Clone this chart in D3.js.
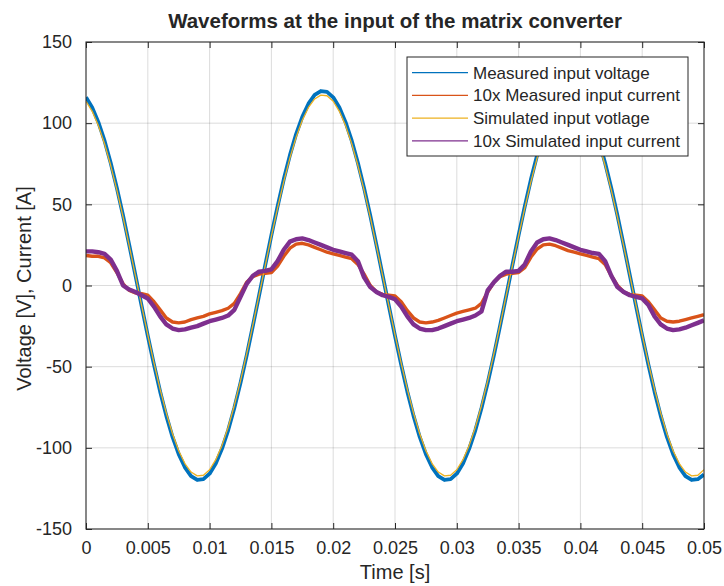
<!DOCTYPE html>
<html>
<head>
<meta charset="utf-8">
<script src="https://cdn.jsdelivr.net/npm/d3@7"></script>
<style>
  html, body { margin: 0; padding: 0; background: #fff; }
  svg { display: block; }
  text { font-family: "Liberation Sans", Arial, Helvetica, sans-serif; fill: #262626; }
</style>
</head>
<body>
<svg id="chart" width="724" height="586"></svg>
<script>
// ---------------- data ----------------
const title = "Waveforms at the input of the matrix converter";
const xLabel = "Time [s]";
const yLabel = "Voltage [V], Current [A]";
const xTicks = [0, 0.005, 0.01, 0.015, 0.02, 0.025, 0.03, 0.035, 0.04, 0.045, 0.05];
const xTickLabels = ["0", "0.005", "0.01", "0.015", "0.02", "0.025", "0.03", "0.035", "0.04", "0.045", "0.05"];
const yTicks = [-150, -100, -50, 0, 50, 100, 150];
const yTickLabels = ["-150", "-100", "-50", "0", "50", "100", "150"];
const seriesNames = ["Measured input voltage", "10x Measured input current", "Simulated input votlage", "10x Simulated input current"];
const seriesColors = ["#0072BD", "#D95319", "#EDB120", "#7E2F8E"];

// sample times: 0 .. 0.05 s every 0.0005 s (101 samples)
const timeStart = 0, timeStep = 0.0005;

const measuredVoltage = [
  115.9, 109.6, 100.6, 89.2, 75.5, 60.0, 43.0, 24.9, 6.3, -12.5,
  -31.1, -48.8, -65.4, -80.3, -93.3, -103.9, -112.0, -117.4, -119.8, -119.3,
  -115.9, -109.6, -100.6, -89.2, -75.5, -60.0, -43.0, -24.9, -6.3, 12.5,
  31.1, 48.8, 65.4, 80.3, 93.3, 103.9, 112.0, 117.4, 119.8, 119.3,
  115.9, 109.6, 100.6, 89.2, 75.5, 60.0, 43.0, 24.9, 6.3, -12.5,
  -31.1, -48.8, -65.4, -80.3, -93.3, -103.9, -112.0, -117.4, -119.8, -119.3,
  -115.9, -109.6, -100.6, -89.2, -75.5, -60.0, -43.0, -24.9, -6.3, 12.5,
  31.1, 48.8, 65.4, 80.3, 93.3, 103.9, 112.0, 117.4, 119.8, 119.3,
  115.9, 109.6, 100.6, 89.2, 75.5, 60.0, 43.0, 24.9, 6.3, -12.5,
  -31.1, -48.8, -65.4, -80.3, -93.3, -103.9, -112.0, -117.4, -119.8, -119.3,
  -116.5
];
const measuredCurrent = [
  18.5, 18, 18, 17, 14, 8, 1, -3, -4.5, -5,
  -6, -10, -15, -20, -22.5, -23, -22.5, -21, -20, -19,
  -17.5, -16.5, -15.5, -14, -11, -5, 2, 5.5, 7, 7.5,
  8, 12, 18, 23, 25.5, 26, 25, 23.5, 22, 20.5,
  19.5, 18.5, 17.5, 16.5, 13, 7, 0, -4, -5.5, -6,
  -6.5, -10, -15.5, -20, -22.5, -23, -22.5, -21.5, -20, -18.5,
  -17, -16, -15, -14, -11, -4, 2, 5.5, 7, 7.5,
  8, 11, 17.5, 22.5, 25, 25.5, 24.5, 23, 21.5, 20.5,
  19.5, 18.5, 17.5, 16.5, 13, 6, 0, -4, -5.5, -6,
  -6.5, -10, -15, -20, -22, -22.5, -22, -21, -20, -19,
  -18
];
const simulatedVoltage = [
  113.5, 107.3, 98.5, 87.3, 73.9, 58.8, 42.1, 24.4, 6.1, -12.3,
  -30.4, -47.8, -64.0, -78.6, -91.3, -101.8, -109.7, -114.9, -117.3, -116.9,
  -113.5, -107.3, -98.5, -87.3, -73.9, -58.8, -42.1, -24.4, -6.1, 12.3,
  30.4, 47.8, 64.0, 78.6, 91.3, 101.8, 109.7, 114.9, 117.3, 116.9,
  113.5, 107.3, 98.5, 87.3, 73.9, 58.8, 42.1, 24.4, 6.1, -12.3,
  -30.4, -47.8, -64.0, -78.6, -91.3, -101.8, -109.7, -114.9, -117.3, -116.9,
  -113.5, -107.3, -98.5, -87.3, -73.9, -58.8, -42.1, -24.4, -6.1, 12.3,
  30.4, 47.8, 64.0, 78.6, 91.3, 101.8, 109.7, 114.9, 117.3, 116.9,
  113.5, 107.3, 98.5, 87.3, 73.9, 58.8, 42.1, 24.4, 6.1, -12.3,
  -30.4, -47.8, -64.0, -78.6, -91.3, -101.8, -109.7, -114.9, -117.3, -116.9,
  -113.5
];
const simulatedCurrent = [
  21, 21, 20.5, 19.5, 16, 9, 0, -2.5, -4, -6,
  -8, -13, -19, -24, -26.5, -27.5, -27, -26, -25, -23.5,
  -22, -21, -20, -18.5, -15, -7, 1, 6, 8.5, 9,
  10, 15, 22, 27, 28.5, 29, 28, 26.5, 25, 23.5,
  22, 21, 20, 19, 15, 5, -1, -4, -6, -7,
  -8.5, -13, -19, -24, -26.5, -27.5, -27.5, -26.5, -25, -23.5,
  -22, -21, -20, -18.5, -16, -3, 2, 6, 8.5, 8.5,
  9, 13, 21, 26.5, 28.5, 29, 28, 26.5, 25, 23.5,
  22, 21, 20, 19.5, 15, 6, -1, -4, -6, -7,
  -8, -12, -19, -24, -26.5, -27.5, -27, -26, -24.5, -23,
  -21.5
];

// ---------------- layout ----------------
const svg = d3.select("#chart");
const L = 86, R = 704, T = 42, B = 529;
const x = d3.scaleLinear().domain([0, 0.05]).range([L, R]);
const y = d3.scaleLinear().domain([-150, 150]).range([B, T]);
const ink = "#262626";
const font = "'Liberation Sans', Arial, Helvetica, sans-serif";

// grid
const grid = svg.append("g");
grid.selectAll("line.gx").data(xTicks.slice(1, -1)).join("line")
  .attr("x1", d => x(d)).attr("x2", d => x(d)).attr("y1", T).attr("y2", B)
  .attr("stroke", ink).attr("stroke-opacity", 0.16).attr("stroke-width", 1);
grid.selectAll("line.gy").data(yTicks.slice(1, -1)).join("line")
  .attr("x1", L).attr("x2", R).attr("y1", d => y(d)).attr("y2", d => y(d))
  .attr("stroke", ink).attr("stroke-opacity", 0.16).attr("stroke-width", 1);

// series
const times = measuredVoltage.map((_, i) => timeStart + i * timeStep);
const series = [measuredVoltage, measuredCurrent, simulatedVoltage, simulatedCurrent];
const widths = [3.8, 3.4, 1.3, 4.4];
const line = d3.line().x((d, i) => x(times[i])).y(d => y(d));
const plot = svg.append("g");
plot.append("clipPath").attr("id", "clip").append("rect")
  .attr("x", L).attr("y", T).attr("width", R - L).attr("height", B - T);
series.forEach((s, k) => {
  plot.append("path").datum(s)
    .attr("clip-path", "url(#clip)")
    .attr("fill", "none").attr("stroke", seriesColors[k])
    .attr("stroke-width", widths[k]).attr("stroke-linejoin", "round")
    .attr("d", line);
});

// axes (inward ticks, box)
const tickLen = 6;
const xAxisB = d3.axisBottom(x).tickValues(xTicks).tickSizeInner(-tickLen).tickSizeOuter(0)
  .tickFormat((d, i) => xTickLabels[i]).tickPadding(12);
const gxb = svg.append("g").attr("transform", `translate(0,${B})`).call(xAxisB);
gxb.select(".domain").remove();
gxb.selectAll("line").attr("stroke", ink);
gxb.selectAll("text").attr("font-size", 18).attr("fill", ink).attr("font-family", font);

const xAxisT = d3.axisTop(x).tickValues(xTicks).tickSizeInner(-tickLen).tickSizeOuter(0).tickFormat("");
const gxt = svg.append("g").attr("transform", `translate(0,${T})`).call(xAxisT);
gxt.select(".domain").remove();
gxt.selectAll("line").attr("stroke", ink);

const yAxisL = d3.axisLeft(y).tickValues(yTicks).tickSizeInner(-tickLen).tickSizeOuter(0)
  .tickFormat((d, i) => yTickLabels[i]).tickPadding(14);
const gyl = svg.append("g").attr("transform", `translate(${L},0)`).call(yAxisL);
gyl.select(".domain").remove();
gyl.selectAll("line").attr("stroke", ink);
gyl.selectAll("text").attr("font-size", 18).attr("fill", ink).attr("font-family", font);

const yAxisR = d3.axisRight(y).tickValues(yTicks).tickSizeInner(-tickLen).tickSizeOuter(0).tickFormat("");
const gyr = svg.append("g").attr("transform", `translate(${R},0)`).call(yAxisR);
gyr.select(".domain").remove();
gyr.selectAll("line").attr("stroke", ink);

svg.append("rect").attr("x", L).attr("y", T).attr("width", R - L).attr("height", B - T)
  .attr("fill", "none").attr("stroke", ink).attr("stroke-width", 1.1);

// labels
svg.append("text").attr("x", (L + R) / 2).attr("y", 28).attr("text-anchor", "middle")
  .attr("font-size", 20.5).attr("font-weight", "bold").attr("fill", "#000").text(title);
svg.append("text").attr("x", (L + R) / 2).attr("y", 579).attr("text-anchor", "middle")
  .attr("font-size", 20).text(xLabel);
svg.append("text").attr("transform", `translate(31,${(T + B) / 2 + 3}) rotate(-90)`)
  .attr("text-anchor", "middle").attr("font-size", 20).text(yLabel);

// legend
const lg = svg.append("g");
lg.append("rect").attr("x", 407).attr("y", 57).attr("width", 281).attr("height", 99)
  .attr("fill", "#fff").attr("stroke", ink).attr("stroke-width", 1);
seriesNames.forEach((name, i) => {
  const cy = 72.7 + i * 22.7;
  lg.append("line").attr("x1", 412).attr("x2", 468).attr("y1", cy).attr("y2", cy)
    .attr("stroke", seriesColors[i]).attr("stroke-width", 1.2);
  lg.append("text").attr("x", 473).attr("y", cy + 6).attr("font-size", 17).attr("fill", "#000").text(name);
});
</script>
</body>
</html>
